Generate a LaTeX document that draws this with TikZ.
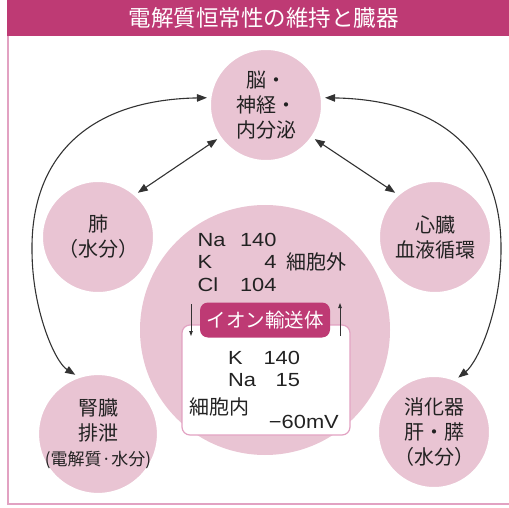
\documentclass[tikz,border=0pt]{standalone}
\usepackage{fontspec}
\setmainfont{Liberation Sans}
\newfontfamily\jp{Noto Sans CJK JP}
\newfontfamily\lat[FakeStretch=1.15]{Liberation Sans}
\usetikzlibrary{arrows.meta}
\definecolor{cpink}{HTML}{E9C4D3}
\definecolor{cmag}{HTML}{BE3A74}
\definecolor{cframe}{HTML}{E2A2C2}
\definecolor{cline}{HTML}{333333}
\definecolor{ctext}{HTML}{222222}
\tikzset{
  smallc/.style={circle, fill=cpink, draw=white, line width=9pt, minimum size=119pt,
     inner sep=0pt, outer sep=0pt, align=center, text=ctext,
     font=\jp\fontsize{20}{25}\selectfont},
  link/.style={draw=cline, line width=1.1pt,
     {Triangle[length=10pt,width=7.5pt]}-{Triangle[length=10pt,width=7.5pt]}},
  sarrow/.style={draw=cline, line width=0.8pt, -{Triangle[length=5pt,width=3.5pt]}},
  jtxt/.style={font=\jp\fontsize{20}{25}\selectfont, text=ctext, inner sep=0pt},
  ltxt/.style={font=\lat\fontsize{19}{22.5}\selectfont, text=ctext, inner sep=0pt},
}
\begin{document}
\begin{tikzpicture}[x=1pt,y=-1pt]
\useasboundingbox (0,0) rectangle (509,508);
% frame
\draw[cframe, line width=2pt] (8.3,36) -- (8.3,504) -- (512,504);
\fill[cmag] (7.3,0) rectangle (512,36);
\node[font=\jp\fontsize{22.5}{26}\selectfont, text=white, inner sep=0pt] (title) at (263.5,18) {電解質恒常性の維持と臓器};
% big cell circle
\node[circle, fill=cpink, minimum size=250pt, inner sep=0pt] (cell) at (265,330) {};
% small circles
\node[smallc] (top) at (266,105) {脳・\\神経・\\内分泌};
\node[smallc] (lung) at (98,237) {肺\\（水分）};
\node[smallc] (heart) at (435,237) {心臓\\血液循環};
\node[smallc] (kid) at (98,434) {腎臓\\排泄\\{\fontsize{17}{25}\selectfont (電解質·水分)}};
\node[smallc] (dig) at (434,432) {消化器\\肝・膵\\（水分）};
% extracellular text
\node[ltxt, align=left] (ext) at (237,262) {\makebox[41pt][l]{Na}\makebox[38pt][r]{140}\\
  \makebox[41pt][l]{K}\makebox[38pt][r]{4}\\
  \makebox[41pt][l]{Cl}\makebox[38pt][r]{104}};
\node[jtxt, anchor=west] (extl) at (286,262) {細胞外};
% inner box
\node[rectangle, rounded corners=8pt, fill=white, draw=cframe, line width=1.2pt,
  minimum width=168pt, minimum height=110pt] (ibox) at (266,380) {};
\node[rectangle, rounded corners=8pt, fill=cmag, minimum width=130pt, minimum height=35pt,
  text=white, font=\jp\fontsize{19.5}{22}\selectfont, inner sep=0pt] (lbl) at (265,320) {イオン輸送体};
\node[ltxt, align=left] (int) at (264,369) {\makebox[32pt][l]{K}\makebox[40pt][r]{140}\\
  \makebox[32pt][l]{Na}\makebox[40pt][r]{15}};
\node[jtxt, anchor=west] (intl) at (189,407) {細胞内};
\node[ltxt, anchor=east] (mv) at (339,422) {−60mV};
% small transport arrows
\coordinate (d1) at (191,304);
\coordinate (d2) at (191,336);
\coordinate (u1) at (340,336);
\coordinate (u2) at (340,303);
\draw[sarrow] (d1) -- (d2);
\draw[sarrow] (u1) -- (u2);
% links
\draw[link] (lung.48) -- (top.215);
\draw[link] (heart.132) -- (top.325);
\draw[link] (top.173) .. controls (85,100) and (31,160) .. (32,250)
   .. controls (32,310) and (55,362) .. (kid.111);
\draw[link] (top.7) .. controls (448,100) and (502,160) .. (501,250)
   .. controls (501,310) and (478,362) .. (dig.66);
\end{tikzpicture}
\end{document}
